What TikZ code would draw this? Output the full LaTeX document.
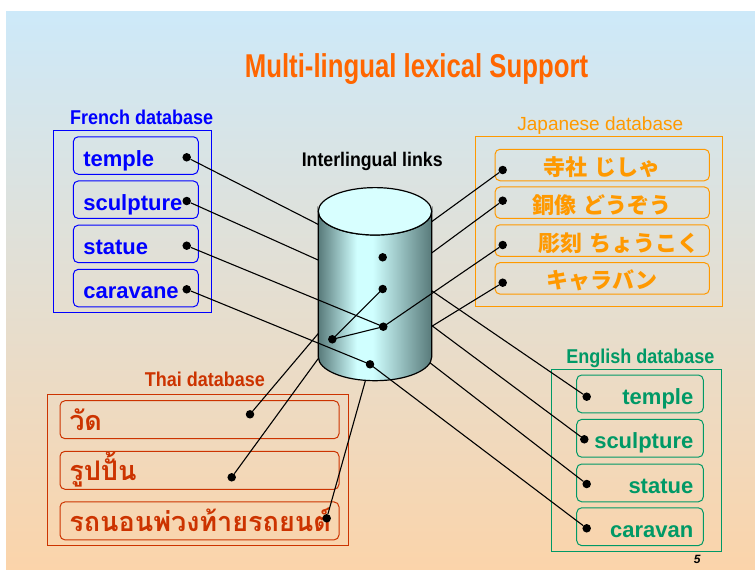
\documentclass[tikz,border=0pt]{standalone}
\usepackage{fontspec}
\setmainfont{Liberation Sans}
\newfontfamily\titlefont[FakeStretch=0.78]{Liberation Sans}
\newfontfamily\labelfont[FakeStretch=0.9]{Liberation Sans}
\newfontfamily\jpfont{Noto Sans CJK JP}
\newfontfamily\thaifont[Script=Thai]{Loma}
\usepackage{xcolor}
\usepackage{tikz}
\usetikzlibrary{positioning}

\definecolor{bgtop}{RGB}{205,233,249}
\definecolor{bgmid}{RGB}{229,225,216}
\definecolor{bgbot}{RGB}{251,212,170}
\definecolor{titleorange}{RGB}{255,102,0}
\definecolor{frblue}{RGB}{0,0,255}
\definecolor{jporange}{RGB}{255,153,0}
\definecolor{engreen}{RGB}{0,153,102}
\definecolor{thred}{RGB}{204,51,0}
\definecolor{cyldark}{RGB}{88,122,122}
\definecolor{cyllight}{RGB}{208,255,255}
\definecolor{cyltop}{RGB}{216,255,255}
\pgfdeclarehorizontalshading{cylshade}{100bp}{color(0bp)=(cyldark); color(25bp)=(cyldark); color(42bp)=(cyllight); color(49bp)=(cyllight); color(75bp)=(cyldark); color(100bp)=(cyldark)}

\tikzset{
    dbframe/.style={draw=#1, line width=1pt},
    dbtitle/.style={text=#1, anchor=base, font=\labelfont\bfseries\fontsize{20}{20}\selectfont},
    wordbox/.style={draw=#1, text=#1, line width=1pt, rounded corners=5pt,
        inner ysep=0pt, inner xsep=10pt, text height=21pt, text depth=0pt,
        font=\bfseries\fontsize{22}{22}\selectfont},
    frword/.style={wordbox=frblue, text width=105pt, align=left, minimum height=37.5pt},
    enword/.style={wordbox=engreen, text width=106.6pt, align=right, minimum height=37.8pt},
    jpword/.style={wordbox=jporange, text width=194.3pt, align=center, minimum height=31.5pt,
        font=\jpfont\bfseries\fontsize{22}{22}\selectfont},
    thword/.style={wordbox=thred, inner xsep=9.3pt, text width=260.4pt, align=left, minimum height=38pt,
        font=\thaifont\bfseries\fontsize{27}{27}\selectfont},
    linkdot/.style={circle, fill=black, inner sep=0pt, minimum size=8.5pt},
    link/.style={line width=1.1pt},
}

\begin{document}
\begin{tikzpicture}[x=1pt, y=-1pt]
        %%% BACKGROUND %%%
        \fill[white] (0,0) rectangle (755,570);
        \useasboundingbox (0,0) rectangle (755,570);
        \shade[top color=bgtop, middle color=bgmid, bottom color=bgbot] (6,11) rectangle (755,570);
        \node[anchor=base, text=titleorange, font=\titlefont\bfseries\fontsize{33}{33}\selectfont] (title) at (416.5,77.3) {Multi-lingual lexical Support};

        %%% HUB COORDINATES %%%
        \coordinate (h1) at (382.7,257.3);
        \coordinate (h2) at (382.7,289);
        \coordinate (h3) at (383.3,326.7);
        \coordinate (h4) at (332.3,339.3);
        \coordinate (h5) at (370,364.3);

        %%% FRENCH %%%
        \draw[dbframe=frblue] (53.3,130.7) rectangle (211,312.3);
        \node[dbtitle=frblue] (frlab) at (141.7,124) {French database};
        \node[frword] (fr1) at (135.8,155.5) {temple};
        \node[frword] (fr2) at (135.8,199.7) {sculpture};
        \node[frword] (fr3) at (135.8,243.9) {statue};
        \node[frword] (fr4) at (135.8,288.1) {caravane};
        \node[linkdot] (fr1d) at (186.7,157.3) {};
        \node[linkdot] (fr2d) at (186.7,201) {};
        \node[linkdot] (fr3d) at (186.7,245.7) {};
        \node[linkdot] (fr4d) at (186.7,289.3) {};

        %%% JAPANESE %%%
        \draw[dbframe=jporange] (475.7,136.7) rectangle (722,306);
        \node[anchor=base, text=jporange, font=\fontsize{19}{19}\selectfont] (jplab) at (600.3,130.7) {Japanese database};
        \node[jpword] (jp1) at (602.2,165) {寺社 じしゃ};
        \node[jpword] (jp2) at (602.2,202.7) {銅像 どうぞう};
        \node[jpword, align=right] (jp3) at (602.2,240.5) {彫刻 ちょうこく};
        \node[jpword] (jp4) at (602.2,278.4) {キャラバン};
        \node[linkdot] (jp1d) at (502.7,170) {};
        \node[linkdot] (jp2d) at (502.7,200.7) {};
        \node[linkdot] (jp3d) at (502.7,245) {};
        \node[linkdot] (jp4d) at (502.7,282.7) {};

        %%% ENGLISH %%%
        \draw[dbframe=engreen] (551.7,369.3) rectangle (721.7,551.7);
        \node[dbtitle=engreen] (enlab) at (640.3,363.3) {English database};
        \node[enword] (en1) at (640,393.9) {temple};
        \node[enword] (en2) at (640,438.3) {sculpture};
        \node[enword] (en3) at (640,482.9) {statue};
        \node[enword] (en4) at (640,526.7) {caravan};
        \node[linkdot] (en1d) at (586.7,396.7) {};
        \node[linkdot] (en2d) at (584.3,439.3) {};
        \node[linkdot] (en3d) at (586.7,484) {};
        \node[linkdot] (en4d) at (586.7,528.3) {};
        \node[anchor=base, font=\bfseries\itshape\fontsize{12}{12}\selectfont] (pagenum) at (697.3,563) {5};

        %%% THAI %%%
        \draw[dbframe=thred] (47.3,394) rectangle (348.3,545.7);
        \node[dbtitle=thred] (thlab) at (205,386.7) {Thai database};
        \node[thword] (th1) at (199.5,419.7) {วัด};
        \node[thword] (th2) at (199.5,470.3) {รูปปั้น};
        \node[thword] (th3) at (199.5,520.9) {รถนอนพ่วงท้ายรถยนต์};
        \node[linkdot] (th1d) at (250,414.3) {};
        \node[linkdot] (th2d) at (231.7,477.3) {};
        \node[linkdot] (th3d) at (326.7,518.3) {};

        %%% LINKS BEHIND THE CYLINDER %%%
        \draw[link] (fr1d)--(h1);
        \draw[link] (fr2d)--(h2);
        \draw[link] (jp1d)--(h1);
        \draw[link] (jp2d)--(h2);
        \draw[link] (jp4d)--(h5);
        \draw[link] (en1d)--(h1);
        \draw[link] (en2d)--(h2);
        \draw[link] (en3d)--(h3);
        \draw[link] (th1d)--(h1);
        \draw[link] (th2d)--(h4);
        \draw[link] (th3d)--(h5);

        %%% CYLINDER %%%
        \shadedraw[shading=cylshade, line width=1.2pt] (318.3,211.3)--(318.3,357)
            arc[start angle=180, end angle=0, x radius=56.7, y radius=23.7]--(431.7,211.3)
            arc[start angle=0, end angle=180, x radius=56.7, y radius=23.7]--cycle;
        \filldraw[fill=cyltop, line width=1.2pt] (375,211.3) ellipse[x radius=56.7, y radius=23.7];
        \node[anchor=base, font=\labelfont\bfseries\fontsize{19.7}{19.7}\selectfont] (ilinks) at (372.2,166.7) {Interlingual links};

        %%% LINKS IN FRONT %%%
        \draw[link] (fr3d)--(h3);
        \draw[link] (fr4d)--(h5);
        \draw[link] (jp3d)--(h3);
        \draw[link] (en4d)--(h5);
        \draw[link] (h4)--(h2);
        \draw[link] (h4)--(h3);
        \foreach \h in {h1,h2,h3,h4,h5}
            \node[linkdot] (\h dot) at (\h) {};
    \end{tikzpicture}
\end{document}
